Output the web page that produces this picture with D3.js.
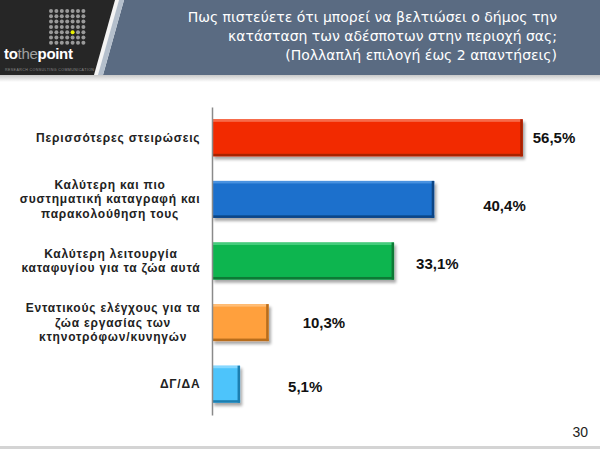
<!DOCTYPE html>
<html>
<head>
<meta charset="utf-8">
<script src="https://cdn.jsdelivr.net/npm/d3@7/dist/d3.min.js"></script>
<style>
  html, body { margin: 0; padding: 0; background: #fff; }
  svg { display: block; }
</style>
</head>
<body>
<svg id="chart" width="600" height="449"></svg>
<script>
// ---- data ----
const categories = [
  "Περισσότερες στειρώσεις",
  "Καλύτερη και πιο\nσυστηματική  καταγραφή και\nπαρακολούθηση τους",
  "Καλύτερη λειτουργία\nκαταφυγίου για τα ζώα αυτά",
  "Εντατικούς ελέγχους για τα\nζώα εργασίας των\nκτηνοτρόφων/κυνηγών",
  "ΔΓ/ΔΑ"
];
const values = [56.5, 40.4, 33.1, 10.3, 5.1];
const valueLabels = ["56,5%", "40,4%", "33,1%", "10,3%", "5,1%"];
const titleLines = [
  "Πως πιστεύετε ότι μπορεί να βελτιώσει ο δήμος την",
  "κατάσταση των αδέσποτων στην περιοχή σας;",
  "(Πολλαπλή επιλογή έως 2 απαντήσεις)"
];
const pageNumber = "30";

// ---- styles / layout ----
const barColors = [
  { fill: "#f22c06", light: "#f76a4a", dark: "#a82006" },
  { fill: "#1a6fcc", light: "#4a92e0", dark: "#0c4585" },
  { fill: "#0db550", light: "#45cc7c", dark: "#087a35" },
  { fill: "#ffa03c", light: "#ffbe78", dark: "#b86d1f" },
  { fill: "#4ec4fb", light: "#86d8ff", dark: "#1f7fb0" }
];
const labelDx = [10, 49, 22, 34, 48];
const labelDy = [0, 6, 2, 0, 2];

const svg = d3.select("#chart");
const defs = svg.append("defs");

const sh = defs.append("filter").attr("id", "shadow")
  .attr("x", "-10%").attr("y", "-20%").attr("width", "130%").attr("height", "160%");
sh.append("feGaussianBlur").attr("in", "SourceAlpha").attr("stdDeviation", 1.5);
sh.append("feOffset").attr("dx", 2).attr("dy", 2.5).attr("result", "ob");
sh.append("feComponentTransfer").append("feFuncA").attr("type", "linear").attr("slope", 0.35);
const fm = sh.append("feMerge");
fm.append("feMergeNode");
fm.append("feMergeNode").attr("in", "SourceGraphic");

const hs = defs.append("linearGradient").attr("id", "hshadow").attr("x1", 0).attr("y1", 0).attr("x2", 0).attr("y2", 1);
hs.append("stop").attr("offset", "0%").attr("stop-color", "#c8c8c8");
hs.append("stop").attr("offset", "100%").attr("stop-color", "#ffffff");

// ---- header ----
svg.append("rect").attr("x", 0).attr("y", 75).attr("width", 600).attr("height", 7).attr("fill", "url(#hshadow)");
svg.append("polygon").attr("points", "124,0 600,0 600,75 103,75").attr("fill", "#5a6b82");
svg.append("polygon").attr("points", "118,0 124,0 103,75 97,75").attr("fill", "#b4bfcc");
svg.append("polygon").attr("points", "115,0 119,0 98,75 94,75").attr("fill", "#f4f4f4");
svg.append("polygon").attr("points", "0,0 115,0 94,75 0,75").attr("fill", "#262626");

// logo dots
const logo = svg.append("g");
const dotIdx = d3.range(49);
logo.selectAll("circle").data(dotIdx).join("circle")
  .attr("cx", d => 51 + (d % 7) * 5.4)
  .attr("cy", d => 11 + Math.floor(d / 7) * 5.3)
  .attr("r", 2)
  .attr("fill", d => d === 4 * 7 + 4 ? "#e8f000" : "#9a9a9a");
const lt = logo.append("text").attr("x", 4).attr("y", 59)
  .attr("font-family", "Liberation Sans, Arial, sans-serif").attr("font-size", 15)
  .attr("font-weight", "bold").attr("fill", "#ffffff").attr("letter-spacing", -0.3);
lt.append("tspan").text("to");
lt.append("tspan").attr("fill", "#a0a0a0").attr("font-weight", "normal").text("the");
lt.append("tspan").text("point");
logo.append("text").attr("x", 5).attr("y", 71)
  .attr("font-family", "Liberation Sans, Arial, sans-serif").attr("font-size", 3.6)
  .attr("fill", "#8a8a8a").attr("letter-spacing", 0.4)
  .text("RESEARCH  CONSULTING  COMMUNICATION");

// title
svg.append("g").selectAll("text").data(titleLines).join("text")
  .attr("x", 557).attr("y", (d, i) => 22 + i * 19)
  .attr("text-anchor", "end")
  .attr("font-family", "DejaVu Sans, sans-serif").attr("font-size", 14)
  .attr("fill", "#ffffff")
  .text(d => d);

// ---- chart ----
const x = d3.scaleLinear().domain([0, 60]).range([212, 542]);
const y = d3.scaleBand().domain(categories).range([107, 415]).paddingInner(0.4).paddingOuter(0.2);
const bw = y.bandwidth();

const bars = svg.append("g").selectAll("g").data(values).join("g")
  .attr("filter", "url(#shadow)");
bars.append("rect")
  .attr("x", x(0)).attr("y", (d, i) => y(categories[i]))
  .attr("width", d => x(d) - x(0)).attr("height", bw)
  .attr("fill", (d, i) => barColors[i].fill);
// bevel top
bars.append("rect")
  .attr("x", x(0)).attr("y", (d, i) => y(categories[i]))
  .attr("width", d => x(d) - x(0)).attr("height", 2.5)
  .attr("fill", (d, i) => barColors[i].light);
// bevel right
bars.append("rect")
  .attr("x", d => x(d) - 2.5).attr("y", (d, i) => y(categories[i]))
  .attr("width", 2.5).attr("height", bw)
  .attr("fill", (d, i) => barColors[i].dark);
// bevel bottom
bars.append("rect")
  .attr("x", x(0)).attr("y", (d, i) => y(categories[i]) + bw - 2.5)
  .attr("width", d => x(d) - x(0)).attr("height", 2.5)
  .attr("fill", (d, i) => barColors[i].dark);

// axis
const axis = svg.append("g").attr("transform", `translate(${x(0)},0)`)
  .call(d3.axisLeft(y).tickSize(0).tickSizeOuter(0).tickFormat(""));
axis.select(".domain").attr("stroke", "#8a8a8a").attr("stroke-width", 1.5);
axis.selectAll(".tick").remove();

// value labels
svg.append("g").selectAll("text").data(values).join("text")
  .attr("x", (d, i) => x(d) + labelDx[i])
  .attr("y", (d, i) => y(categories[i]) + bw / 2 + labelDy[i])
  .attr("dominant-baseline", "central")
  .attr("font-family", "Liberation Sans, Arial, sans-serif").attr("font-size", 15)
  .attr("font-weight", "bold").attr("fill", "#111")
  .text((d, i) => valueLabels[i]);

// category labels: block right-aligned, lines centered within block
const labelRight = 200, lineH = 14.5, ls = 0.8;
categories.forEach((c, i) => {
  const lines = c.split("\n");
  const cy = y(c) + bw / 2;
  const g = svg.append("g");
  const texts = g.selectAll("text").data(lines).join("text")
    .attr("y", (d, j) => cy + (j - (lines.length - 1) / 2) * lineH)
    .attr("dominant-baseline", "central")
    .attr("text-anchor", "middle")
    .attr("font-family", "Liberation Sans, Arial, sans-serif").attr("font-size", 12)
    .attr("letter-spacing", ls)
    .attr("font-weight", "bold").attr("fill", "#222")
    .text(d => d);
  let maxW = 0;
  texts.each(function () { maxW = Math.max(maxW, this.getComputedTextLength()); });
  texts.attr("x", labelRight - maxW / 2 + ls / 2);
});

// footer
svg.append("rect").attr("x", 0).attr("y", 446).attr("width", 600).attr("height", 3).attr("fill", "#d4d4d4");
svg.append("text").attr("x", 588).attr("y", 437).attr("text-anchor", "end")
  .attr("font-family", "Liberation Sans, Arial, sans-serif").attr("font-size", 14)
  .attr("fill", "#222").text(pageNumber);
</script>
</body>
</html>
